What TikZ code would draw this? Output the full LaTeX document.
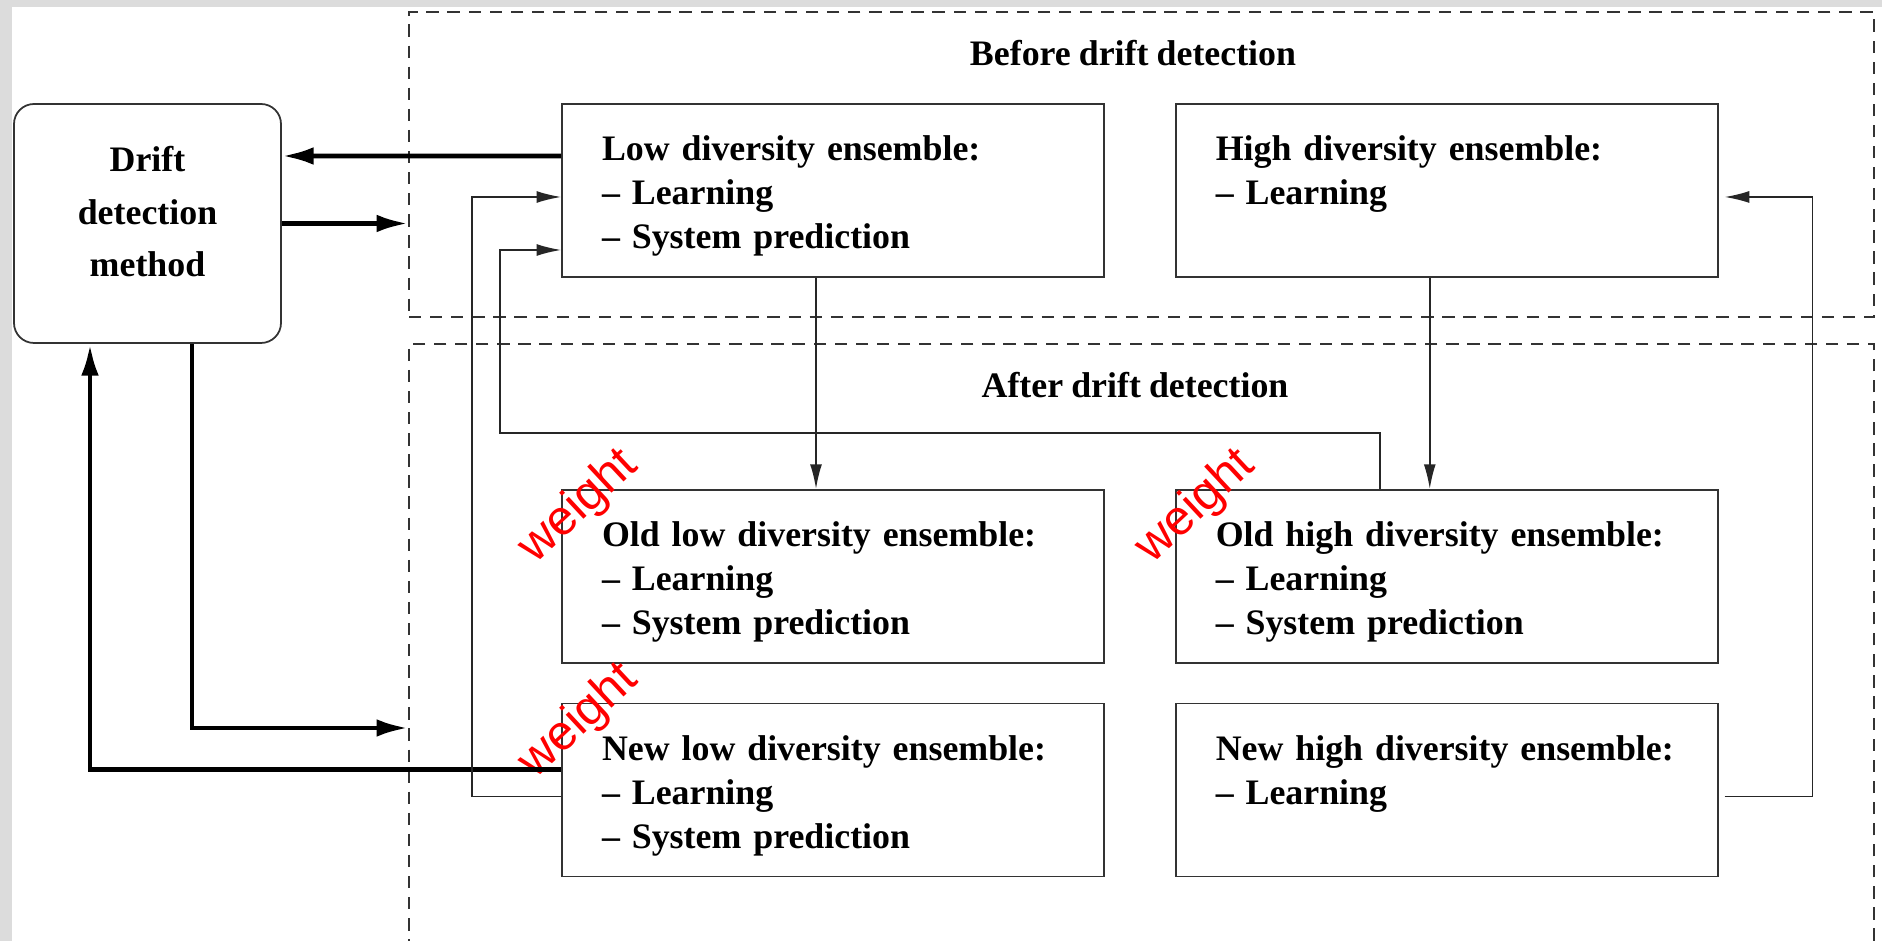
\documentclass[tikz,border=0pt]{standalone}
\usepackage{fontspec}
\setmainfont{Liberation Serif}[WordSpace=0.9]
\newfontfamily\weightfont{Liberation Sans}
\usepackage{xcolor}
\usepackage{tikz}
\usetikzlibrary{positioning,arrows.meta}
\definecolor{bggray}{HTML}{DCDCDC}

\begin{document}
\begin{tikzpicture}[
  >={Latex[length=7pt,width=3.4pt]},
  ens/.style={draw=black!80, line width=0.5pt, minimum width=5.42cm, minimum height=1.73cm,
    text width=4.62cm, inner xsep=0.4cm, align=left, font=\bfseries\fontsize{10.2}{12.5}\selectfont,
    execute at begin node={\rule{0pt}{10.3pt}}},
  zone/.style={draw=black!80, line width=0.4pt, dash pattern=on 3.5pt off 2.5pt, minimum width=14.65cm},
  zonelbl/.style={font=\bfseries\fontsize{10.2}{12.5}\selectfont},
  link/.style={->, line width=0.45pt, black!85},
  bigarrow/.style={-{Latex[length=9pt,width=5pt]}, line width=1.4pt},
  weightlbl/.style={red, font=\weightfont\fontsize{14}{16}\selectfont, rotate=43, inner sep=0pt}
]
  \useasboundingbox (0,0) rectangle (18.82,9.41);
  \fill[bggray] (0,0) rectangle (18.82,9.41);
  \fill[white] (0.12,0) rectangle (18.82,9.34);

  % the two phases
  \node[zone, minimum height=3.05cm] (beforebox) at (11.415,7.765) {};
  \node[zone, minimum height=6.5cm] (afterbox) at (11.415,2.72) {};
  \node[zonelbl] (beforelbl) at (11.33,8.88) {Before drift detection};
  \node[zonelbl] (afterlbl) at (11.35,5.56) {After drift detection};

  \node[draw=black!80, line width=0.5pt, rounded corners=0.2cm, minimum width=2.67cm, minimum height=2.39cm,
    align=center, font=\bfseries\fontsize{10.2}{15}\selectfont] (drift) at (1.475,7.175)
    {Drift\\detection\\method\rule[-6.8pt]{0pt}{6.8pt}};

  % ensembles
  \node[ens] (lowd) at (8.33,7.505) {Low diversity ensemble:\\-- Learning\\-- System prediction};
  \node[ens, right=0.7cm of lowd] (highd) {High diversity ensemble:\\-- Learning\\\vphantom{p}};
  \node[ens, below=2.11cm of lowd] (oldlow) {Old low diversity ensemble:\\-- Learning\\-- System prediction};
  \node[ens, right=0.7cm of oldlow] (oldhigh) {Old high diversity ensemble:\\-- Learning\\-- System prediction};
  \node[ens, below=0.39cm of oldlow] (newlow) {New low diversity ensemble:\\-- Learning\\-- System prediction};
  \node[ens, right=0.7cm of newlow] (newhigh) {New high diversity ensemble:\\-- Learning\\\vphantom{p}};

  \node[weightlbl] (w1) at ([shift={(1.8mm,-1.8mm)}]oldlow.north west) {weight};
  \node[weightlbl] (w2) at ([shift={(1.8mm,-1.9mm)}]newlow.north west) {weight};
  \node[weightlbl] (w3) at ([shift={(2.1mm,-1.8mm)}]oldhigh.north west) {weight};

  % drift detection method
  \draw[bigarrow] ([yshift=3.45mm]lowd.west) -- ([yshift=6.75mm]drift.east);
  \draw[bigarrow] (drift.east) -- (drift.east -| beforebox.west);
  \draw[bigarrow] ([xshift=4.45mm]drift.south) |- ([yshift=-5.9mm]afterbox.west);
  \draw[bigarrow] ([yshift=2.05mm]newlow.west) -| ([xshift=-5.75mm]drift.south);

  % ensembles
  \draw[link] ([xshift=-1.7mm]lowd.south) -- ([xshift=-1.7mm]oldlow.north);
  \draw[link] ([xshift=-1.7mm]highd.south) -- ([xshift=-1.7mm]oldhigh.north);
  \draw[link] ([xshift=-6.7mm]oldhigh.north) -- ++(0,0.56) -- ++(-8.8,0) |- ([yshift=-5.95mm]lowd.west);
  \draw[link] ([yshift=-0.65mm]newlow.west) -- ++(-0.89,0) |- ([yshift=-0.65mm]lowd.west);
  \draw[link] ([shift={(0.6mm,-0.65mm)}]newhigh.east) -- ++(0.88,0) |- ([shift={(0.6mm,-0.65mm)}]highd.east);
\end{tikzpicture}
\end{document}
